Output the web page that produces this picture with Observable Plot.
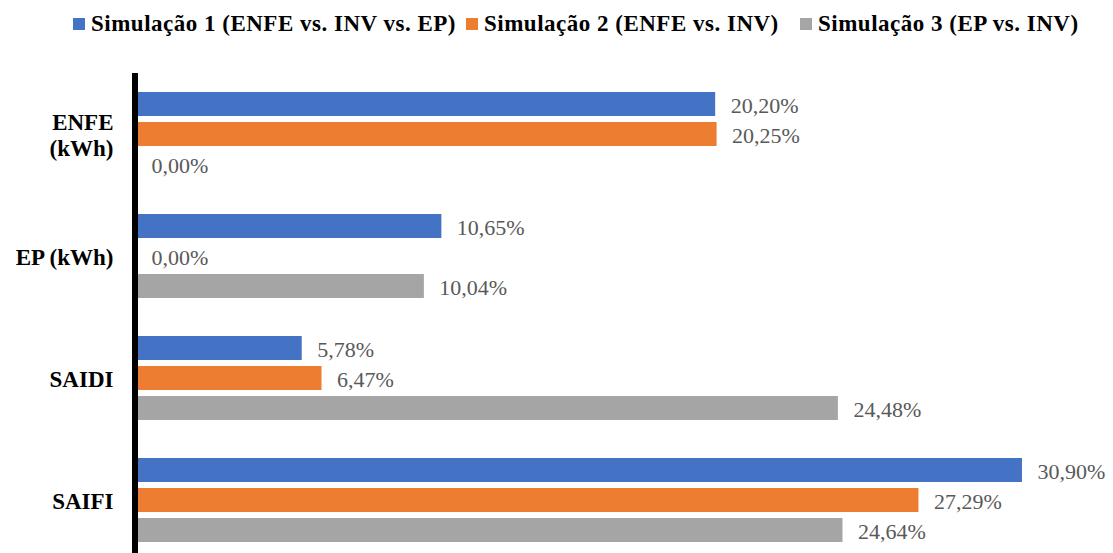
<!DOCTYPE html>
<html><head><meta charset="utf-8">
<script src="https://cdn.jsdelivr.net/npm/d3@7"></script>
<script src="https://cdn.jsdelivr.net/npm/@observablehq/plot@0.6"></script>
<style>
body{margin:0;background:#fff;overflow:hidden;}
#legend{position:relative;height:48px;font-family:"Times New Roman","Liberation Serif",Tinos,serif;font-weight:bold;font-size:23px;color:#000;letter-spacing:0.5px;white-space:nowrap;}
.item{position:absolute;top:0;height:48px;display:flex;align-items:center;}
.sw{width:12px;height:12px;margin-right:6px;flex:none;}
</style>
</head><body>
<div id="legend"></div>
<div id="chart"></div>
<script>
const categories = ["ENFE (kWh)", "EP (kWh)", "SAIDI", "SAIFI"];
const categoryLabels = ["ENFE\n(kWh)", "EP (kWh)", "SAIDI", "SAIFI"];
const seriesNames = ["Simulação 1 (ENFE vs. INV vs. EP)", "Simulação 2 (ENFE vs. INV)", "Simulação 3 (EP vs. INV)"];
const sim1 = [20.20, 10.65, 5.78, 30.90];
const sim2 = [20.25, 0.00, 6.47, 27.29];
const sim3 = [0.00, 10.04, 24.48, 24.64];
const colors = ["#4472C4", "#ED7D31", "#A5A5A5"];

const seriesValues = [sim1, sim2, sim3];
const offsets = [-30, 0, 30];
const legendLeft = [73, 466, 800];
const fmt = v => v.toFixed(2).replace(".", ",") + "%";

const legend = document.getElementById("legend");
seriesNames.forEach((s, i) => {
  const it = document.createElement("div");
  it.className = "item";
  it.style.left = legendLeft[i] + "px";
  const sw = document.createElement("span");
  sw.className = "sw";
  sw.style.background = colors[i];
  const tx = document.createElement("span");
  tx.textContent = s;
  it.appendChild(sw); it.appendChild(tx);
  legend.appendChild(it);
});

const marks = [];
seriesValues.forEach((vals, i) => {
  const rows = categories.map((c, j) => ({cat: c, value: vals[j]}));
  marks.push(Plot.barX(rows, {y: "cat", x: "value", fill: colors[i], insetTop: 49, insetBottom: 49, dy: offsets[i]}));
  marks.push(Plot.text(rows, {y: "cat", x: "value", text: d => fmt(d.value), dx: 15, dy: offsets[i] + 1, textAnchor: "start", fill: "#595959", fontSize: 22}));
});
marks.push(Plot.ruleX([0], {stroke: "black", strokeWidth: 6, dx: -1.5}));
marks.push(Plot.text(categories, {y: d => d, frameAnchor: "left", text: (d, i) => categoryLabels[i], textAnchor: "end", dx: -23, fontSize: 23, fontWeight: "bold", fill: "#000", lineHeight: 1.15}));

const chart = Plot.plot({
  width: 1113,
  height: 513,
  marginTop: 25,
  marginBottom: 0,
  marginLeft: 136,
  marginRight: 59.5,
  x: {domain: [0, 32], axis: null},
  y: {domain: categories, axis: null, padding: 0},
  style: {fontFamily: "'Times New Roman', 'Liberation Serif', Tinos, serif", background: "white", overflow: "visible"},
  marks
});
document.getElementById("chart").appendChild(chart);
</script>
</body></html>
